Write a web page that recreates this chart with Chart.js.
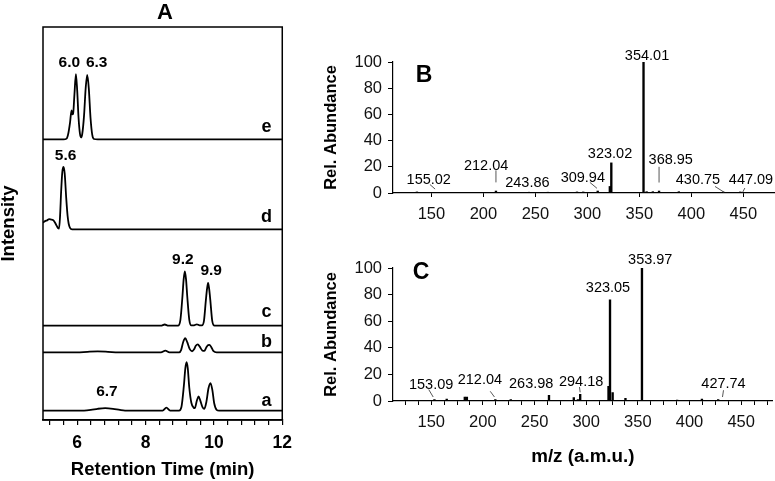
<!DOCTYPE html>
<html>
<head>
<meta charset="utf-8">
<script src="https://cdn.jsdelivr.net/npm/chart.js@4.4.0/dist/chart.umd.min.js"></script>
<style>
  html, body { margin: 0; padding: 0; background: #fff; }
  #fig { position: relative; width: 775px; height: 481px; overflow: hidden; }
  canvas { position: absolute; }
  #chartA { left: 0; top: 0; }
  #chartB { left: 300px; top: 0; }
  #chartC { left: 300px; top: 240px; }
</style>
</head>
<body>
<div id="fig">
  <canvas id="chartA" width="300" height="481"></canvas>
  <canvas id="chartB" width="475" height="240"></canvas>
  <canvas id="chartC" width="475" height="241"></canvas>
</div>
<script>
const FONT = "'Liberation Sans', Arial, sans-serif";

// ---- Panel A: chromatograms, [retention time, intensity above own baseline] ----
const traceA = [[5.0,0],[6.2,0],[6.4,0.15],[6.6,0.45],[6.82,0.62],[7.05,0.45],[7.25,0.15],[7.4,0],[8.5,0],[8.61,0.75],[8.72,0],[8.98,0],
  [9.05,0.9],[9.12,6.2],[9.165,10.8],[9.2,12.3],[9.235,10.8],[9.28,5.8],[9.34,2.0],[9.41,0.7],[9.44,0.6],[9.5,2.5],[9.55,3.6],[9.6,2.6],
  [9.67,0.8],[9.72,0.45],[9.78,2.2],[9.84,5.6],[9.9,7.0],[9.955,5.2],[10.01,1.8],[10.08,0.2],[10.15,0],[12,0]];
const traceB = [[5.0,0],[6.0,0],[6.3,0.15],[6.6,0.25],[6.9,0.15],[7.2,0],[8.45,0],[8.58,0.45],[8.7,0],[8.98,0],[9.04,0.6],[9.1,2.6],
  [9.16,3.6],[9.22,2.6],[9.29,0.9],[9.36,0.3],[9.42,0.8],[9.47,1.7],[9.53,2.05],[9.59,1.4],[9.66,0.5],[9.72,0.4],[9.78,1.3],[9.83,1.85],
  [9.87,1.9],[9.92,1.4],[9.99,0.3],[10.08,0],[12,0]];
const traceC = [[5.0,0],[8.45,0],[8.56,0.3],[8.67,0],[8.95,0],[9.02,1.5],[9.08,7.5],[9.115,11.8],[9.15,13.8],[9.185,11.8],[9.22,7.5],
  [9.28,1.5],[9.34,0.1],[9.42,0.1],[9.5,0.35],[9.58,0.1],[9.65,0.1],[9.71,1.3],[9.765,6.5],[9.8,9.4],[9.83,10.9],[9.86,9.4],[9.895,6.5],
  [9.95,1.3],[10.02,0],[12,0]];
const traceD = [[5.0,1.7],[5.06,2.1],[5.12,2.3],[5.18,2.6],[5.24,2.5],[5.29,2.4],[5.34,1.9],[5.39,1.1],[5.44,0.3],[5.47,0.2],[5.5,3.5],
  [5.53,9.5],[5.565,14.6],[5.6,15.9],[5.635,14.2],[5.68,7.9],[5.72,3.4],[5.75,1.5],[5.79,0.4],[5.85,0],[12,0]];
const traceE = [[5.0,0],[5.6,0],[5.69,0.2],[5.74,1.5],[5.79,4.2],[5.835,7.4],[5.86,6.4],[5.88,6.5],[5.92,11.5],[5.963,16.6],[6.0,12.5],
  [6.04,5.5],[6.08,1.5],[6.115,0.5],[6.15,1.5],[6.2,6.0],[6.25,13.2],[6.294,16.4],[6.34,13.0],[6.39,5.5],[6.44,1.2],[6.49,0.1],[6.6,0],[12,0]];
const traceNames = ["a", "b", "c", "d", "e"];
const traceData = [traceA, traceB, traceC, traceD, traceE];
const traceBaselines = [2.4, 17.2, 24.0, 48.5, 71.4];
const rtTicks = [5.2,5.6,6.0,6.4,6.8,7.2,7.6,8.0,8.4,8.8,9.2,9.6,10.0,10.4,10.8,11.2,11.6,12.0];
const rtLabels = [6, 8, 10, 12];
// peak labels: [text, time, height]
const peakLabelsA = [["6.0",5.77,91.0],["6.3",6.57,91.0],["5.6",5.66,67.2],["9.2",9.09,40.9],["9.9",9.92,38.0],["6.7",6.87,7.2]];
const traceLetterTime = 11.54;
const traceLetterHeights = [4.9, 19.9, 27.6, 51.7, 74.6];

// ---- Panel B: mass spectrum ----
const mzB = [136, 155.02, 212.04, 243.86, 262, 290, 296, 309.94, 321.6, 323.02, 354.01, 357, 363, 368.95, 388, 430.75, 447.09];
const abB = [0.8, 0.5, 1.5, 0.6, 0.6, 0.8, 0.8, 1.5, 5, 23, 100, 1, 1, 1.5, 1, 0.8, 0.8];
const labelsB = [["155.02",147.4,10.2],["212.04",202.6,20.8],["243.86",242.3,7.6],["309.94",295.6,11.5],["323.02",321.8,30],
  ["354.01",357.4,104.5],["368.95",380.2,24.9],["430.75",406.4,10.2],["447.09",457.4,10.2]];
const leadersB = [[148.5,6.5,153.5,3],[212.04,17.3,212.04,8.1],[302.4,8.1,309.2,3.6],[368.95,20,368.95,8],[422.8,5,431.5,0.6],[451.5,3.8,449.4,0.6]];

// ---- Panel C: mass spectrum ----
const mzC = [153.09, 165, 182.5, 184.5, 198, 212.04, 227, 263.98, 288, 292, 294.18, 321.6, 323.05, 325.6, 338, 353.97, 370, 388, 412, 427.74, 440];
const abC = [1, 1.5, 3, 3, 0.5, 1, 1, 4.3, 2.5, 1, 5, 11, 76, 6.3, 2, 100, 0.5, 0.7, 1.5, 1, 0.5];
const labelsC = [["153.09",149.9,11.9],["212.04",197.1,15.6],["263.98",246.8,12.6],["294.18",295.1,14.4],["323.05",321.1,84.9],
  ["353.97",362,105.7],["427.74",432.9,12.6]];
const leadersC = [[147.6,8.6,151.9,3],[207.1,7.3,211.2,3],[293.5,10.5,294.18,6.5],[432.9,8.1,431.9,3]];

const mzMajorTicks = [150, 200, 250, 300, 350, 400, 450];
const mzMinorTicksC = [125,137.5,150,162.5,175,187.5,200,212.5,225,237.5,250,262.5,275,287.5,300,312.5,325,337.5,350,362.5,375,387.5,400,412.5,425,437.5,450,462.5,475];
const abTicks = [0, 20, 40, 60, 80, 100];

function annotator(cfg) {
  return {
    id: "annotator",
    afterDatasetsDraw(chart) {
      const { ctx, chartArea, scales } = chart;
      const x = scales.x;
      const y = scales.y;
      ctx.save();
      if (cfg.box) {
        ctx.strokeStyle = "#000";
        ctx.lineWidth = 1.5;
        ctx.strokeRect(chartArea.left, chartArea.top, chartArea.right - chartArea.left, chartArea.bottom - chartArea.top);
      }
      ctx.strokeStyle = "#444";
      ctx.lineWidth = 0.9;
      (cfg.leaders || []).forEach((l) => {
        ctx.beginPath();
        ctx.moveTo(x.getPixelForValue(l[0]), y.getPixelForValue(l[1]));
        ctx.lineTo(x.getPixelForValue(l[2]), y.getPixelForValue(l[3]));
        ctx.stroke();
      });
      ctx.fillStyle = "#000";
      ctx.textAlign = "center";
      ctx.textBaseline = "middle";
      ctx.font = cfg.labelFont;
      cfg.labels.forEach(([text, xv, yv]) => {
        ctx.fillText(text, x.getPixelForValue(xv), y.getPixelForValue(yv));
      });
      if (cfg.tags) {
        ctx.font = cfg.tagFont;
        cfg.tags.forEach(([text, xv, yv]) => {
          ctx.fillText(text, x.getPixelForValue(xv), y.getPixelForValue(yv));
        });
      }
      if (cfg.letter) {
        ctx.font = cfg.letterFont;
        ctx.fillText(cfg.letter, chartArea.left + cfg.letterDx, chartArea.top + cfg.letterDy);
      }
      ctx.restore();
    }
  };
}

// Panel A
new Chart(document.getElementById("chartA"), {
  type: "line",
  data: {
    datasets: traceData.map((pts, i) => ({
      label: traceNames[i],
      data: pts.map(([t, v]) => ({ x: t, y: traceBaselines[i] + v })),
      borderColor: "#000",
      borderWidth: 1.8,
      pointRadius: 0,
      fill: false,
      cubicInterpolationMode: "monotone"
    }))
  },
  options: {
    responsive: false,
    animation: false,
    layout: { padding: { top: 27, right: 12, left: 0, bottom: 0 } },
    plugins: { legend: { display: false }, tooltip: { enabled: false } },
    scales: {
      x: {
        type: "linear",
        min: 5,
        max: 12,
        afterBuildTicks: (s) => { s.ticks = rtTicks.map((v) => ({ value: v })); },
        afterFit: (s) => { s.height = 61; },
        ticks: {
          autoSkip: false,
          maxRotation: 0,
          color: "#000",
          padding: 8,
          font: { family: FONT, size: 17.5, weight: "bold" },
          callback: (v) => (rtLabels.includes(v) ? String(v) : "")
        },
        grid: { drawOnChartArea: false, tickLength: 5, color: "#000", lineWidth: 1.2 },
        border: { color: "#000", width: 1.5 },
        title: {
          display: true,
          text: "Retention Time (min)",
          color: "#000",
          font: { family: FONT, size: 18.5, weight: "bold" },
          padding: { top: 0, bottom: 0 }
        }
      },
      y: {
        min: 0,
        max: 100,
        afterFit: (s) => { s.width = 43; },
        ticks: { display: false },
        grid: { display: false },
        border: { display: false },
        title: {
          display: true,
          text: "Intensity",
          color: "#000",
          font: { family: FONT, size: 18.5, weight: "bold", lineHeight: 1 },
          padding: { top: 0, bottom: 0 }
        }
      }
    }
  },
  plugins: [annotator({
    box: true,
    labels: peakLabelsA,
    labelFont: "bold 15.5px " + FONT,
    tags: traceNames.map((n, i) => [n, traceLetterTime, traceLetterHeights[i]]),
    tagFont: "bold 18px " + FONT,
    letter: "A",
    letterFont: "bold 22px " + FONT,
    letterDx: 122,
    letterDy: -14
  })]
});

function spectrumChart(canvasId, mz, ab, labels, leaders, letter, opts) {
  return new Chart(document.getElementById(canvasId), {
    type: "bar",
    data: {
      datasets: [{
        data: mz.map((m, i) => ({ x: m, y: ab[i] })),
        backgroundColor: "#000",
        borderWidth: 0,
        barThickness: 1.7
      }]
    },
    options: {
      responsive: false,
      animation: false,
      layout: { padding: { top: opts.top, right: 0, left: 0, bottom: 0 } },
      plugins: { legend: { display: false }, tooltip: { enabled: false } },
      scales: {
        x: {
          type: "linear",
          min: 113,
          max: 480.5,
          offset: false,
          afterBuildTicks: (s) => { s.ticks = opts.xTicks.map((v) => ({ value: v })); },
          afterFit: (s) => { s.height = opts.xHeight; },
          ticks: {
            autoSkip: false,
            maxRotation: 0,
            color: "#111",
            padding: 8,
            font: { family: FONT, size: 16.5 },
            callback: (v) => (mzMajorTicks.includes(v) ? String(v) : "")
          },
          grid: { drawOnChartArea: false, offset: false, tickLength: 4, color: "#000", lineWidth: 1 },
          border: { color: "#000", width: 1.2 },
          title: {
            display: opts.xTitle,
            text: "m/z (a.m.u.)",
            color: "#000",
            font: { family: FONT, size: 18.8, weight: "bold" },
            padding: { top: 0, bottom: 13 }
          }
        },
        y: {
          min: 0,
          max: 100,
          afterBuildTicks: (s) => { s.ticks = abTicks.map((v) => ({ value: v })); },
          afterFit: (s) => { s.width = 93; },
          ticks: { color: "#111", padding: 6, font: { family: FONT, size: 16.5 } },
          grid: { drawOnChartArea: false, tickLength: 5, color: "#000", lineWidth: 1 },
          border: { color: "#000", width: 1.2 },
          title: {
            display: true,
            text: "Rel. Abundance",
            color: "#000",
            font: { family: FONT, size: 16.5, weight: "bold" },
            padding: { top: 22, bottom: 0 }
          }
        }
      }
    },
    plugins: [annotator({
      box: false,
      labels,
      leaders,
      labelFont: "14.5px " + FONT,
      letter,
      letterFont: "bold 23px " + FONT,
      letterDx: opts.letterDx,
      letterDy: opts.letterDy
    })]
  });
}

spectrumChart("chartB", mzB, abB, labelsB, leadersB, "B",
  { top: 62, xHeight: 47, xTitle: false, xTicks: mzMajorTicks, letterDx: 31, letterDy: 14 });
spectrumChart("chartC", mzC, abC, labelsC, leadersC, "C",
  { top: 28, xHeight: 80, xTitle: true, xTicks: mzMinorTicksC, letterDx: 28, letterDy: 5 });
</script>
</body>
</html>
